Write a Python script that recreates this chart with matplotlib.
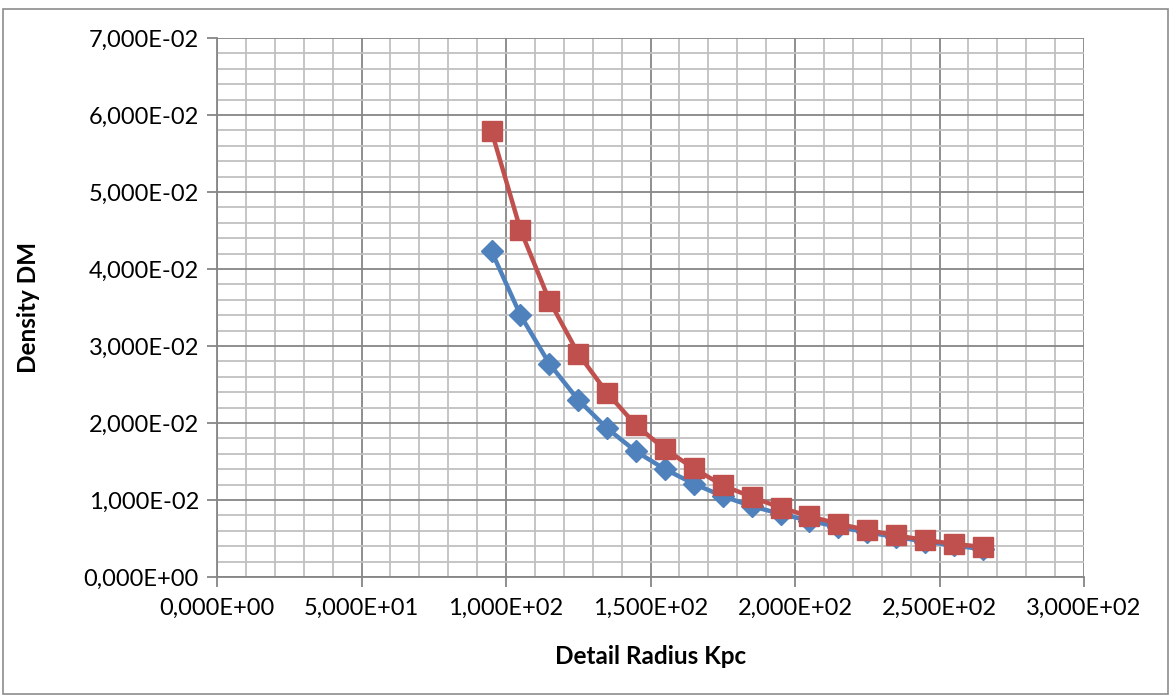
import numpy as np
import matplotlib.pyplot as plt
from matplotlib.ticker import MultipleLocator, FuncFormatter
from matplotlib.patches import Rectangle

# Dados
raio = [95, 105, 115, 125, 135, 145, 155, 165, 175, 185,
        195, 205, 215, 225, 235, 245, 255, 265]
dens_azul = [0.0423, 0.0340, 0.0277, 0.0230, 0.0193, 0.0163, 0.0140, 0.0121, 0.0105,
             0.0092, 0.0082, 0.0073, 0.0065, 0.0058, 0.0052, 0.0046, 0.0041, 0.0036]
dens_vermelho = [0.0579, 0.0451, 0.0359, 0.0290, 0.0239, 0.0197, 0.0166, 0.0141, 0.0119,
                 0.0104, 0.0090, 0.0079, 0.0069, 0.0061, 0.0054, 0.0048, 0.0043, 0.0039]

plt.rcParams['font.family'] = ['Lato', 'DejaVu Sans']

fig = plt.figure(figsize=(11.71, 6.97), dpi=100)
ax = fig.add_axes([217/1171, 1 - 577/697, (1084 - 217)/1171, (577 - 38)/697])

# moldura externa
fig.patches.append(Rectangle((3/1171, 3/697), 1165/1171, 685/697, transform=fig.transFigure,
                             fill=False, edgecolor='#8c8c8c', linewidth=1.2))

ax.plot(raio, dens_azul, color='#4F81BD', linewidth=3.2, marker='D', markersize=11, zorder=3)
ax.plot(raio, dens_vermelho, color='#C0504D', linewidth=3.2, marker='s', markersize=14, zorder=4)

ax.set_xlim(0, 300)
ax.set_ylim(0, 0.07)
ax.xaxis.set_major_locator(MultipleLocator(50))
ax.xaxis.set_minor_locator(MultipleLocator(10))
ax.yaxis.set_major_locator(MultipleLocator(0.01))
ax.yaxis.set_minor_locator(MultipleLocator(0.002))

fmt = FuncFormatter(lambda v, p: f'{v:.3E}'.replace('.', ','))
ax.xaxis.set_major_formatter(fmt)
ax.yaxis.set_major_formatter(fmt)

ax.grid(which='major', color='#868686', linewidth=1.3)
ax.grid(which='minor', color='#c0c0c0', linewidth=1.3)
ax.set_axisbelow(True)
for s in ['top', 'right']:
    ax.spines[s].set_visible(False)
for s in ['left', 'bottom']:
    ax.spines[s].set_color('#868686')
    ax.spines[s].set_linewidth(1.3)

ax.tick_params(which='major', length=7, color='#868686', width=1.3, labelsize=17)
ax.tick_params(axis='x', pad=8)
ax.tick_params(axis='y', pad=6)
ax.tick_params(which='minor', length=0)

ax.set_xlabel('Detail Radius Kpc', fontsize=17.5, fontweight='bold')
ax.set_ylabel('Density DM', fontsize=17.5, fontweight='bold')
ax.xaxis.set_label_coords(0.5, -0.127)
ax.yaxis.set_label_coords(-0.204, 0.5)

fig.savefig('out.png', dpi=100)
